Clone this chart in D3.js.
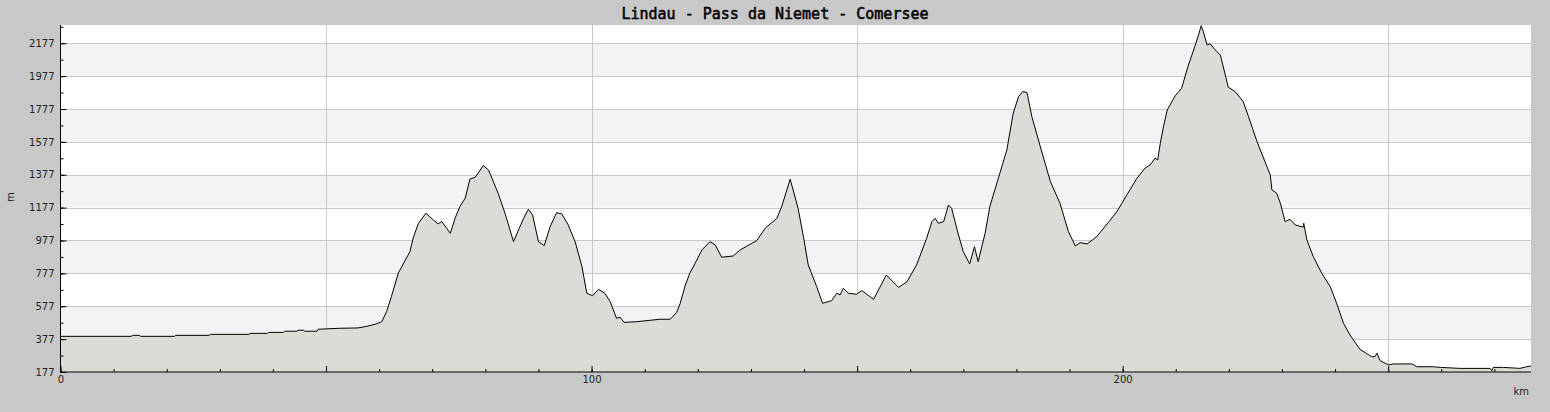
<!DOCTYPE html>
<html><head><meta charset="utf-8">
<script src="https://cdn.jsdelivr.net/npm/d3@7"></script>
<style>
html,body{margin:0;padding:0;background:#c8c8c8;}
svg{display:block;}
</style></head>
<body>
<svg id="chart" width="1550" height="412"></svg>
<script>
const title = "Lindau - Pass da Niemet - Comersee";
const xLabel = "km";
const yLabel = "m";
const yTicks = [177, 377, 577, 777, 977, 1177, 1377, 1577, 1777, 1977, 2177];
const xTickLabels = [0, 100, 200];
const xMajorTicks = [0, 50, 100, 150, 200, 250];
const distanceKm = [0,13.3,13.6,14.8,15.1,21.5,21.7,28,28.2,35.5,35.7,39,39.2,42,42.2,44.5,44.7,45.8,46,48.3,48.5,52.6,56,57.7,59.5,60.5,61.4,62.3,63.6,65.8,66.4,67.4,68.8,70.2,71.1,71.8,73.4,74.3,75.2,76.2,77.1,78.1,79.6,80.6,82.4,83.7,85.3,87.2,88.1,88.9,90.0,91.1,92.2,93.4,94.4,95.6,96.9,98.2,99.1,100.2,101.3,102.5,103.5,104.7,105.4,106.1,108.5,112.9,114.8,116.0,116.7,117.6,118.5,119.5,120.8,122.3,123.3,124.5,126.7,128.0,131.1,132.7,134.9,135.8,137.4,138.9,139.9,140.8,142.4,143.5,145.2,146.2,146.8,147.4,148.4,149.9,150.9,153.1,155.5,157.8,159.4,161.2,163.1,164.1,164.7,165.3,166.3,167.2,167.8,169.1,170.0,171.2,172.1,172.8,174.1,175.0,176.6,178.2,179.4,180.4,181.2,182.0,182.9,184.5,186.4,188.2,189.8,191.1,192.0,193.3,195.1,197.3,198.9,200.8,202.7,204.2,205.2,206.1,206.6,207.1,207.7,208.4,209.9,211.1,212.4,213.6,214.3,214.8,215.2,215.9,216.5,217.4,218.4,219.9,221.2,222.7,223.7,225.3,226.8,227.8,228.1,229.0,229.7,230.6,231.5,232.5,234.0,234.1,234.7,235.9,237.5,239.1,240.3,241.6,242.8,244.7,246.9,247.5,247.9,248.5,250.1,251.0,254.5,255.4,258.5,259.8,263.6,269.2,269.5,269.8,271.7,274.8,276.1,276.9];
const elevationM = [394,394,400,400,394,394,400,400,406,406,412,412,418,418,425,425,431,431,425,425,437,443,445,455,470,483,544,635,778,909,991,1082,1143,1102,1078,1092,1021,1112,1183,1234,1350,1362,1433,1406,1265,1143,970,1112,1167,1132,970,946,1061,1146,1139,1072,970,818,656,641,680,656,605,504,510,479,483,498,498,538,595,700,778,838,920,970,950,875,883,920,976,1052,1112,1183,1350,1171,1000,828,696,595,611,656,646,686,656,650,672,619,767,692,726,828,991,1092,1112,1082,1092,1193,1173,1010,909,834,939,848,1021,1183,1356,1528,1751,1852,1883,1877,1731,1548,1335,1204,1031,944,964,956,1000,1086,1152,1254,1356,1417,1437,1478,1467,1569,1670,1771,1857,1903,2045,2157,2228,2284,2248,2167,2173,2137,2106,1909,1883,1822,1731,1579,1457,1376,1285,1265,1204,1092,1106,1072,1058,1082,980,879,778,696,595,473,402,315,270,270,291,246,220,226,226,209,209,205,199,199,185,205,205,199,209,214];

const profile = distanceKm.map((d, i) => ({km: d, m: elevationM[i]}));

const svg = d3.select("#chart");
const L = 60.5, R = 1531, T = 25, B = 372;
const yMin = 177, yMax = 2288;
const xMax = distanceKm[distanceKm.length - 1];

const x = d3.scaleLinear().domain([0, xMax]).range([L, R]);
const y = d3.scaleLinear().domain([yMin, yMax]).range([B, T]);

// plot background
svg.append("rect").attr("x", L).attr("y", T).attr("width", R - L).attr("height", B - T).attr("fill", "#ffffff");

// alternating bands
const bandEdges = yTicks.concat([yMax]);
for (let i = 0; i < bandEdges.length - 1; i++) {
  if (i % 2 === 1) {
    svg.append("rect")
      .attr("x", L).attr("width", R - L)
      .attr("y", y(bandEdges[i + 1])).attr("height", y(bandEdges[i]) - y(bandEdges[i + 1]))
      .attr("fill", "#f3f2f5");
  }
}

// grid lines
svg.append("g").selectAll("line").data(yTicks.slice(1)).join("line")
  .attr("x1", L).attr("x2", R)
  .attr("y1", d => Math.round(y(d)) + 0.5).attr("y2", d => Math.round(y(d)) + 0.5)
  .attr("stroke", "#c8c8c8").attr("stroke-width", 1);
svg.append("g").selectAll("line").data(xMajorTicks.slice(1)).join("line")
  .attr("y1", T).attr("y2", B)
  .attr("x1", d => Math.round(x(d)) + 0.5).attr("x2", d => Math.round(x(d)) + 0.5)
  .attr("stroke", "#c8c8c8").attr("stroke-width", 1);

// area + line
const area = d3.area().x(d => x(d.km)).y0(y(yMin)).y1(d => y(d.m));
const line = d3.line().x(d => x(d.km)).y(d => y(d.m));
svg.append("path").datum(profile).attr("d", area).attr("fill", "#dcdbd6");
svg.append("path").datum(profile).attr("d", line).attr("fill", "none")
  .attr("stroke", "#000").attr("stroke-width", 1);

// axes
const fontFam = "'DejaVu Sans', sans-serif";
const yMinor = d3.range(yMin, yMax, 100);
svg.append("g").attr("transform", `translate(${L},0)`)
  .call(d3.axisLeft(y).tickValues(yMinor).tickSize(-3).tickSizeOuter(0).tickFormat(""))
  .call(g => g.select(".domain").remove());
svg.append("g").attr("transform", `translate(${L},0)`)
  .call(d3.axisLeft(y).tickValues(yTicks).tickSize(-6).tickSizeOuter(0).tickPadding(6).tickFormat(d3.format("d")))
  .call(g => g.select(".domain").attr("d", `M0,${T}V${B}`))
  .call(g => g.selectAll("text").attr("font-family", fontFam).attr("font-size", 10).attr("fill", "#222"));

const xMinor = d3.range(0, xMax, 10);
svg.append("g").attr("transform", `translate(0,${B})`)
  .call(d3.axisBottom(x).tickValues(xMinor).tickSize(-3).tickSizeOuter(0).tickFormat(""))
  .call(g => g.select(".domain").remove());
svg.append("g").attr("transform", `translate(0,${B})`)
  .call(d3.axisBottom(x).tickValues(xMajorTicks).tickSize(-6).tickSizeOuter(0).tickPadding(4)
    .tickFormat(d => xTickLabels.includes(d) ? d : ""))
  .call(g => g.select(".domain").attr("d", `M${L},0H${R}`))
  .call(g => g.selectAll("text").attr("font-family", fontFam).attr("font-size", 10).attr("fill", "#222"));

// labels
svg.append("text").attr("x", 1529).attr("y", 395).attr("text-anchor", "end")
  .attr("font-family", fontFam).attr("font-size", 10).attr("fill", "#222").text(xLabel);
svg.append("text").attr("transform", "translate(14,197) rotate(-90)").attr("text-anchor", "middle")
  .attr("font-family", fontFam).attr("font-size", 10).attr("fill", "#222").text(yLabel);
svg.append("text").attr("x", 775).attr("y", 19).attr("text-anchor", "middle")
  .attr("font-family", "'DejaVu Sans Mono', monospace").attr("font-size", 15)
  .attr("fill", "#000").attr("stroke", "#000").attr("stroke-width", 0.5).text(title);
</script>
</body></html>
